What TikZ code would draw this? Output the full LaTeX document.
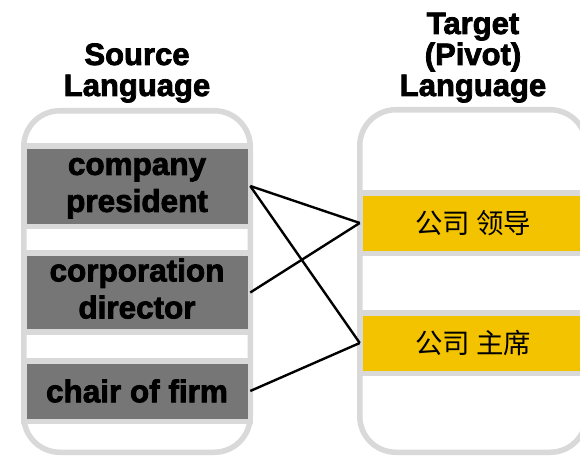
\documentclass[tikz,border=0pt]{standalone}
\usepackage{fontspec}
\setmainfont{Liberation Sans}[BoldFeatures={FakeBold=2.5}]
\newfontfamily\cjk{Noto Sans CJK SC}
\definecolor{sepgray}{HTML}{D9D9D9}
\definecolor{boxgray}{HTML}{767676}
\definecolor{gold}{HTML}{F4C300}
\begin{document}
\begin{tikzpicture}[x=0.75pt,y=-0.75pt,
  container/.style={draw=sepgray, line width=4.125pt, fill=white, rounded corners=27pt},
  cell/.style={rectangle, draw=sepgray, line width=4.125pt, outer sep=0pt, inner sep=0pt,
    minimum width=169.875pt, align=center},
  srcbox/.style={cell, fill=boxgray, font=\bfseries\fontsize{23.6}{27.75}\selectfont},
  tgtbox/.style={cell, fill=gold, minimum height=45.375pt, font=\cjk\fontsize{20.6}{24}\selectfont},
  head/.style={align=center, inner sep=0pt, font=\bfseries\fontsize{23.25}{23.25}\selectfont},
  conn/.style={draw=black, line width=1.8pt}]
\clip (0,0) rectangle (580,456);
\draw[container] (23.75,110.75) rectangle (250.25,452.25);
\draw[container] (359.75,109.75) rectangle (586.25,452.25);
\node[head, anchor=base] (hs) at (137,96) {Source\\Language};
\node[head, anchor=base] (ht) at (473,96) {Target\\(Pivot)\\Language};
\node[srcbox, minimum height=60.375pt] (cp) at (137,186) {\raisebox{-1.5pt}{\begin{tabular}{@{}c@{}}company\\president\end{tabular}}};
\node[srcbox, minimum height=59.25pt] (cd) at (137,292.5) {\raisebox{-1.5pt}{\begin{tabular}{@{}c@{}}corporation\\director\end{tabular}}};
\node[srcbox, minimum height=45.375pt] (cf) at (137,391) {chair of firm};
\node[tgtbox] (t1) at (473,223) {公司 领导};
\node[tgtbox] (t2) at (473,343) {公司 主席};
\draw[conn] (cp.east) -- (t1.west);
\draw[conn] (cp.east) -- (t2.west);
\draw[conn] (cd.east) -- (t1.west);
\draw[conn] (cf.east) -- (t2.west);
\end{tikzpicture}
\end{document}
